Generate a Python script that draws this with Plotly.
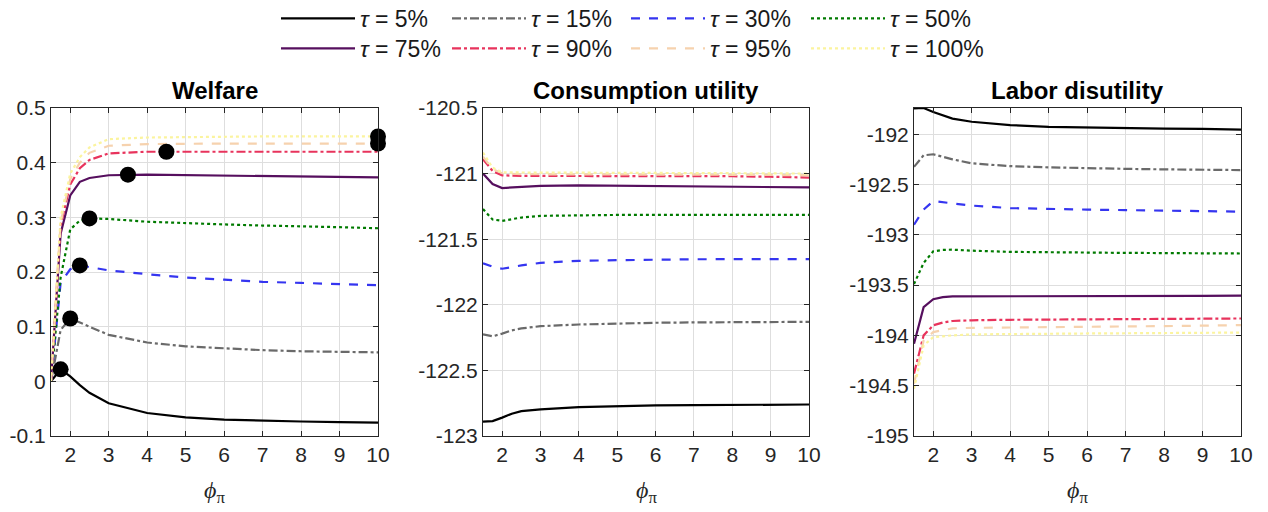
import plotly.graph_objects as go

phi = [1.5, 1.75, 2, 2.25, 2.5, 3, 4, 5, 6, 7, 8, 9, 10]
taus = ["5%", "15%", "30%", "50%", "75%", "90%", "95%", "100%"]

welfare = {
    "5%":   [0.0, 0.022, 0.009, -0.007, -0.021, -0.040, -0.058, -0.066, -0.070, -0.072, -0.0735, -0.0745, -0.0755],
    "15%":  [0.0, 0.094, 0.115, 0.108, 0.100, 0.085, 0.071, 0.064, 0.060, 0.057, 0.055, 0.054, 0.053],
    "30%":  [0.0, 0.180, 0.205, 0.212, 0.209, 0.203, 0.196, 0.190, 0.186, 0.182, 0.180, 0.178, 0.176],
    "50%":  [0.0, 0.190, 0.278, 0.294, 0.298, 0.297, 0.292, 0.289, 0.287, 0.285, 0.284, 0.282, 0.280],
    "75%":  [0.0, 0.270, 0.340, 0.365, 0.372, 0.377, 0.378, 0.377, 0.376, 0.375, 0.375, 0.374, 0.373],
    "90%":  [0.0, 0.285, 0.360, 0.390, 0.405, 0.417, 0.420, 0.420, 0.420, 0.420, 0.420, 0.420, 0.420],
    "95%":  [0.0, 0.290, 0.370, 0.400, 0.418, 0.431, 0.434, 0.435, 0.435, 0.435, 0.435, 0.435, 0.435],
    "100%": [0.0, 0.300, 0.380, 0.410, 0.428, 0.443, 0.446, 0.447, 0.447, 0.448, 0.448, 0.448, 0.448],
}

consumption = {
    "5%":   [-122.89, -122.886, -122.86, -122.83, -122.81, -122.797, -122.78, -122.772, -122.767, -122.765, -122.763, -122.762, -122.76],
    "15%":  [-122.225, -122.24, -122.22, -122.195, -122.18, -122.163, -122.15, -122.142, -122.137, -122.134, -122.132, -122.131, -122.13],
    "30%":  [-121.683, -121.71, -121.725, -121.71, -121.70, -121.68, -121.665, -121.66, -121.655, -121.653, -121.652, -121.652, -121.652],
    "50%":  [-121.27, -121.35, -121.36, -121.345, -121.335, -121.322, -121.317, -121.315, -121.315, -121.315, -121.315, -121.315, -121.315],
    "75%":  [-121.0, -121.08, -121.11, -121.105, -121.1, -121.094, -121.09, -121.092, -121.095, -121.098, -121.1, -121.102, -121.105],
    "90%":  [-120.89, -120.98, -121.013, -121.017, -121.018, -121.018, -121.018, -121.018, -121.018, -121.019, -121.02, -121.024, -121.03],
    "95%":  [-120.87, -120.967, -120.997, -121.003, -121.005, -121.005, -121.005, -121.005, -121.006, -121.007, -121.008, -121.01, -121.013],
    "100%": [-120.84, -120.955, -120.99, -120.992, -120.993, -120.993, -120.993, -120.993, -120.994, -120.995, -120.996, -120.998, -121.0],
}

labor = {
    "5%":   [-191.745, -191.74, -191.78, -191.815, -191.845, -191.877, -191.91, -191.927, -191.934, -191.94, -191.944, -191.947, -191.954],
    "15%":  [-192.325, -192.21, -192.2, -192.228, -192.25, -192.29, -192.318, -192.33, -192.34, -192.345, -192.35, -192.352, -192.357],
    "30%":  [-192.90, -192.75, -192.665, -192.678, -192.69, -192.71, -192.735, -192.745, -192.75, -192.755, -192.76, -192.765, -192.77],
    "50%":  [-193.49, -193.28, -193.165, -193.15, -193.148, -193.158, -193.17, -193.175, -193.178, -193.18, -193.182, -193.184, -193.186],
    "75%":  [-194.083, -193.72, -193.64, -193.62, -193.612, -193.612, -193.615, -193.615, -193.615, -193.614, -193.612, -193.608, -193.605],
    "90%":  [-194.38, -194.0, -193.9, -193.872, -193.857, -193.85, -193.845, -193.842, -193.84, -193.838, -193.836, -193.834, -193.832],
    "95%":  [-194.48, -194.05, -193.967, -193.945, -193.93, -193.925, -193.92, -193.917, -193.914, -193.911, -193.908, -193.904, -193.898],
    "100%": [-194.53, -194.1, -194.017, -194.005, -194.0, -193.99, -193.985, -193.983, -193.981, -193.979, -193.977, -193.975, -193.972],
}

opt_phi = [1.75, 2.0, 2.25, 2.5, 3.5, 4.5, 10, 10]
opt_welfare = [0.022, 0.115, 0.212, 0.298, 0.378, 0.42, 0.435, 0.448]

titles = ["Welfare", "Consumption utility", "Labor disutility"]
x_ticks = [2, 3, 4, 5, 6, 7, 8, 9, 10]
y_ticks_w = [-0.1, 0, 0.1, 0.2, 0.3, 0.4, 0.5]
y_labels_w = ["-0.1", "0", "0.1", "0.2", "0.3", "0.4", "0.5"]
y_ticks_c = [-123, -122.5, -122, -121.5, -121, -120.5]
y_labels_c = ["-123", "-122.5", "-122", "-121.5", "-121", "-120.5"]
y_ticks_l = [-195, -194.5, -194, -193.5, -193, -192.5, -192]
y_labels_l = ["-195", "-194.5", "-194", "-193.5", "-193", "-192.5", "-192"]

colors = ["#000000", "#6a6a6a", "#3535f0", "#007a00", "#560f5e", "#e8335c", "#f6d2ae", "#fbf49e"]
dashes = ["solid", "dashdot", "dash", "dot", "solid", "dashdot", "dash", "dot"]

FONT = "Liberation Sans, Arial, sans-serif"
fig = go.Figure()

leg_names = ["legend"] + ["legend%d" % (j + 2) for j in range(7)]

panels = [welfare, consumption, labor]
axes = [("x", "y"), ("x2", "y2"), ("x3", "y3")]
for p, (data, (xa, ya)) in enumerate(zip(panels, axes)):
    for i, t in enumerate(taus):
        fig.add_trace(go.Scatter(
            x=phi, y=data[t], mode="lines", xaxis=xa, yaxis=ya,
            line=dict(color=colors[i], width=2.2, dash=dashes[i]),
            name="<i>τ</i> = " + t, showlegend=(p == 0),
            legend=leg_names[i],
        ))

fig.add_trace(go.Scatter(
    x=opt_phi, y=opt_welfare, mode="markers", xaxis="x", yaxis="y",
    marker=dict(color="black", size=16), showlegend=False, cliponaxis=False,
))

doms = [[51 / 1268, 378 / 1268], [483 / 1268, 809 / 1268], [914 / 1268, 1241 / 1268]]
yrngs = [[-0.1, 0.5], [-123, -120.5], [-195, -191.74]]
yticks = [y_ticks_w, y_ticks_c, y_ticks_l]
ylabels = [y_labels_w, y_labels_c, y_labels_l]
ydom = [1 - 436 / 512, 1 - 108 / 512]

common = dict(showline=True, linecolor="#262626", linewidth=1, mirror="ticks",
              ticks="inside", ticklen=5, tickcolor="#262626",
              showgrid=True, gridcolor="#dedede", gridwidth=1, zeroline=False,
              automargin=False,
              tickfont=dict(family=FONT, size=21, color="#262626"))

lay = {}
for k in range(3):
    sx = "" if k == 0 else str(k + 1)
    lay["xaxis" + sx] = dict(domain=doms[k], range=[1.5, 10], tickvals=x_ticks,
                              ticktext=[str(v) for v in x_ticks],
                              anchor="y" + sx, **common)
    lay["yaxis" + sx] = dict(domain=ydom, range=yrngs[k], tickvals=yticks[k],
                              ticktext=ylabels[k], anchor="x" + sx, **common)

annotations = []
for k in range(3):
    cx = (doms[k][0] + doms[k][1]) / 2
    annotations.append(dict(text="<b>" + titles[k] + "</b>", x=cx, y=1 - 90 / 512,
                            xref="paper", yref="paper", showarrow=False,
                            xanchor="center", yanchor="middle",
                            font=dict(family=FONT, size=24, color="black")))
    annotations.append(dict(text="<i>ϕ</i><sub>π</sub>", x=cx, y=1 - 492 / 512,
                            xref="paper", yref="paper", showarrow=False,
                            xanchor="center", yanchor="middle",
                            font=dict(family="Liberation Serif, serif", size=24, color="#262626")))

leg_common = dict(orientation="h", xanchor="left", yanchor="top",
                  font=dict(family=FONT, size=23, color="#1a1a1a"),
                  itemwidth=74, bgcolor="rgba(0,0,0,0)", tracegroupgap=0)

col_px = [282, 453, 632, 812]
row_top_px = [-3, 27]
legends = {}
for i, ln in enumerate(leg_names):
    legends[ln] = dict(x=(col_px[i % 4] - 6) / 1268, y=1 - row_top_px[i // 4] / 512, **leg_common)

fig.update_layout(
    width=1268, height=512,
    margin=dict(l=0, r=0, t=0, b=0, autoexpand=False),
    paper_bgcolor="white", plot_bgcolor="white",
    annotations=annotations,
    **legends,
    **lay,
)

fig.write_html("out.html")
